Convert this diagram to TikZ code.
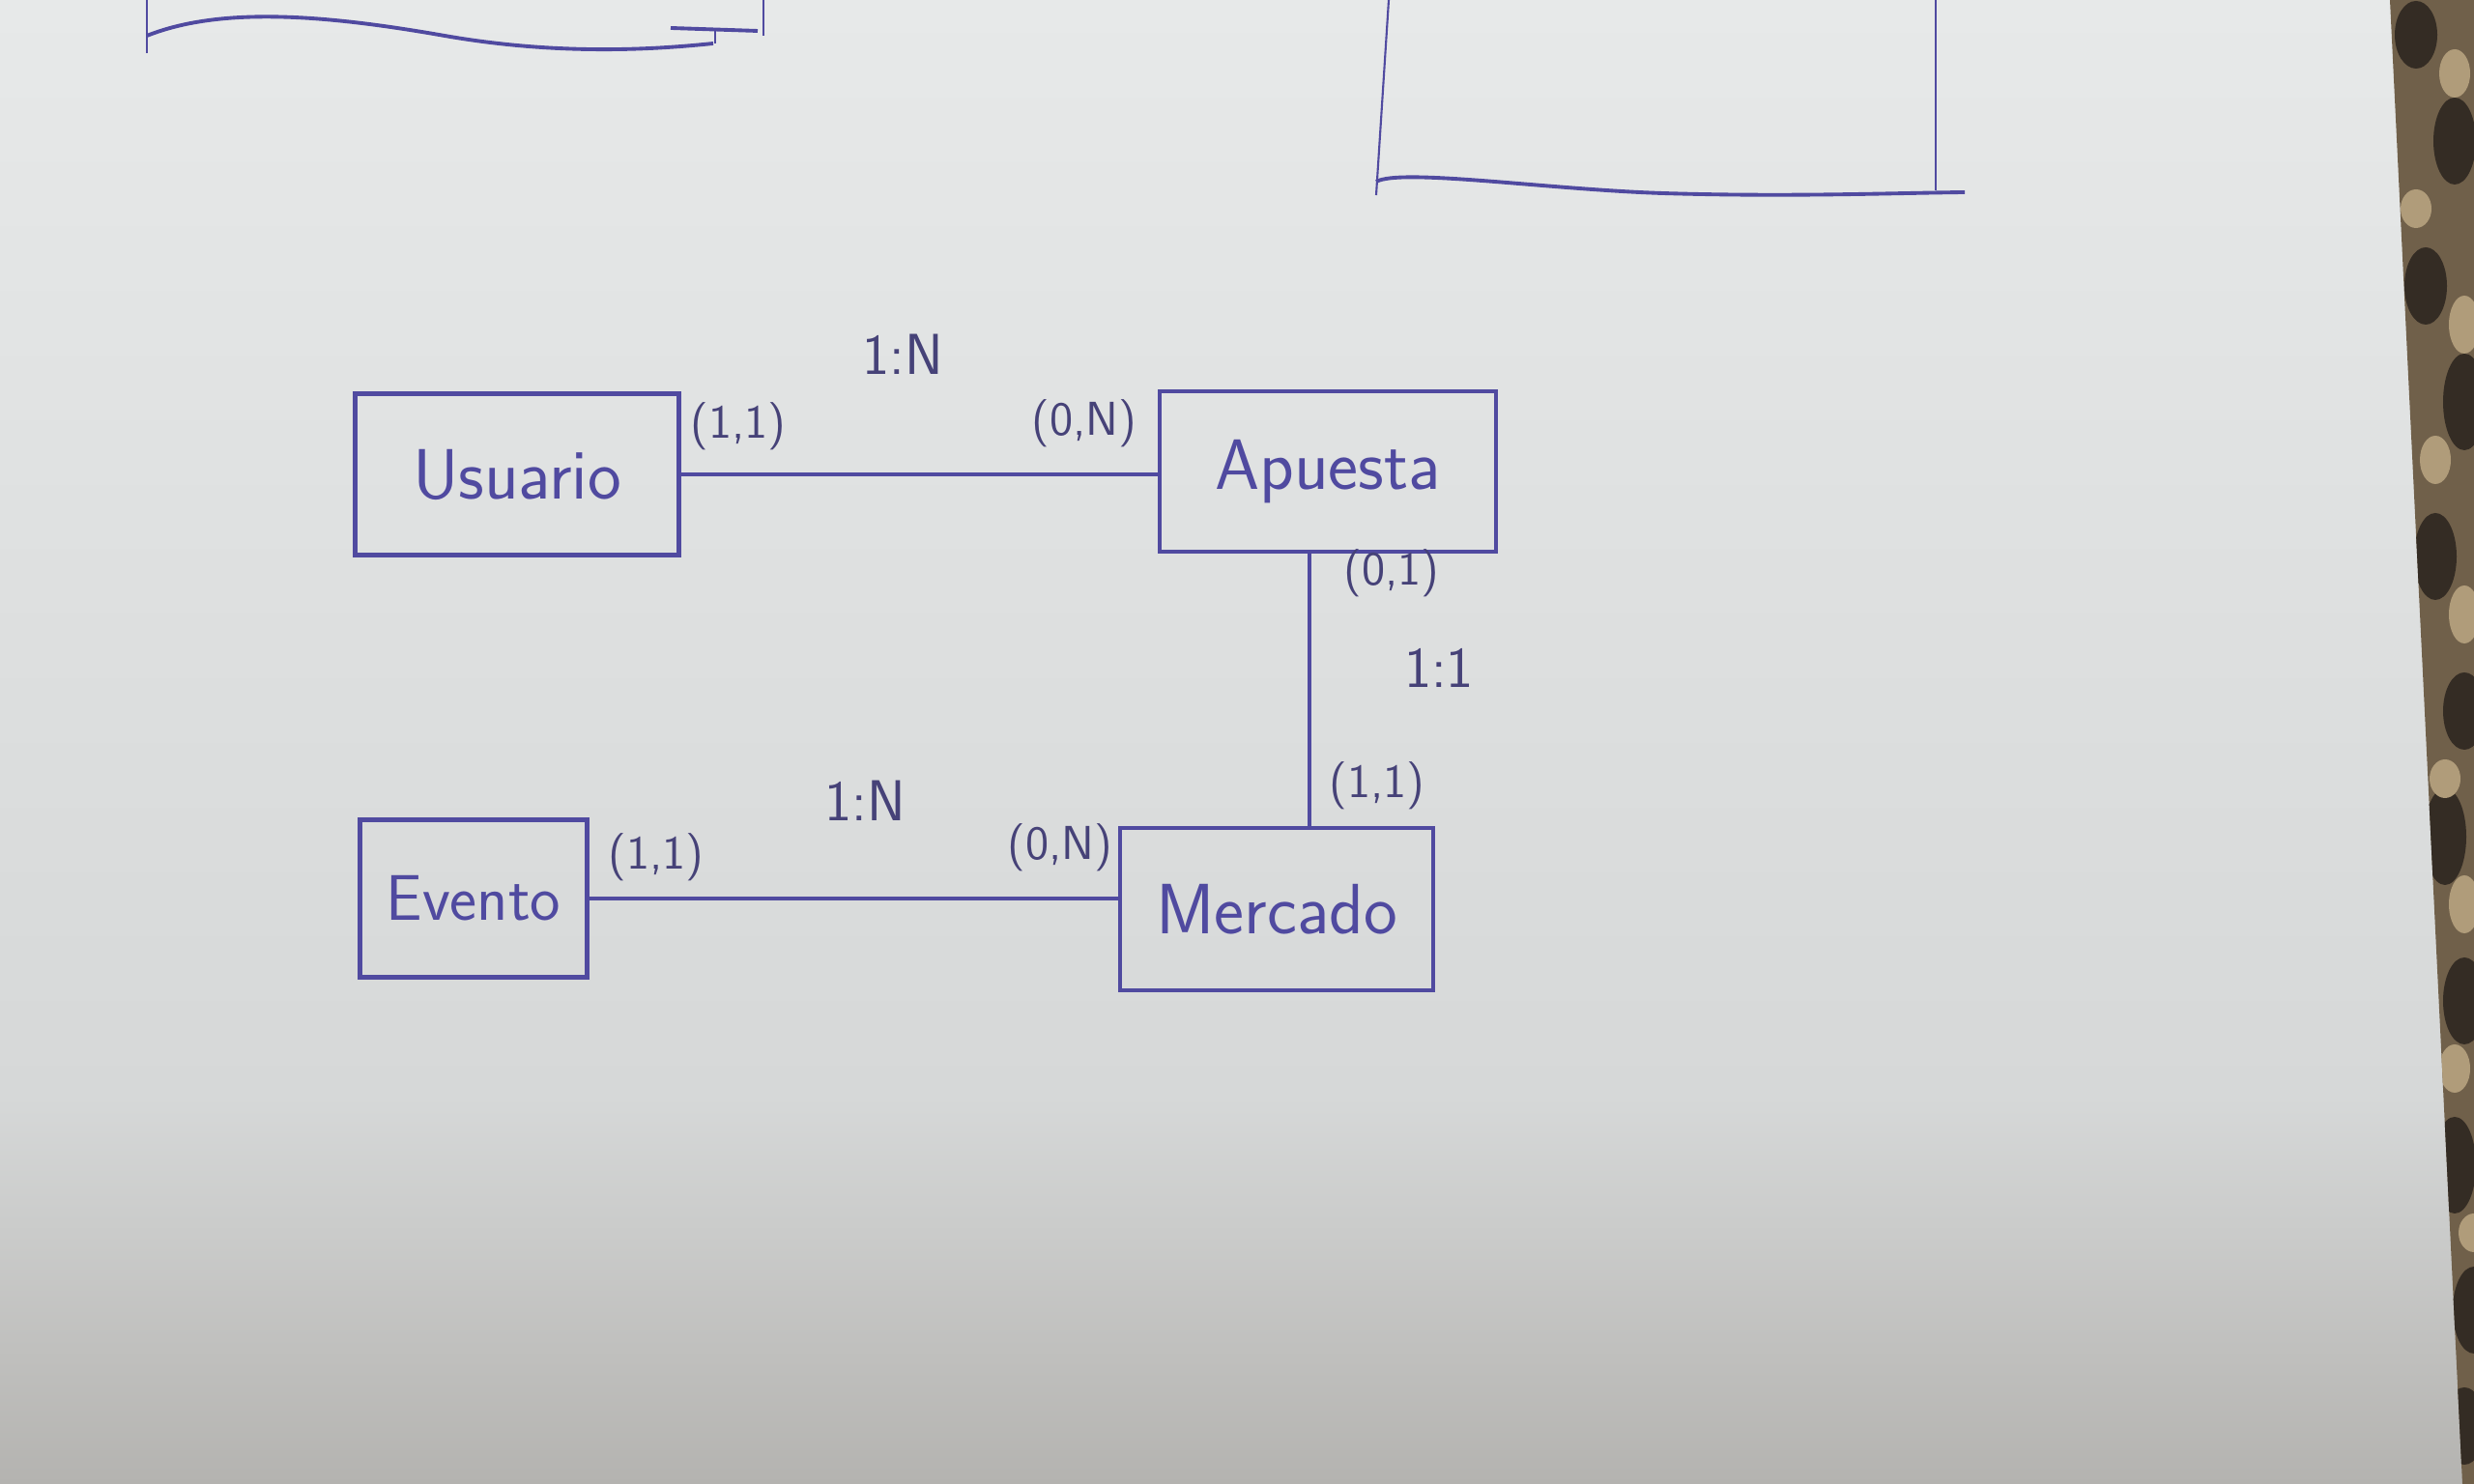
\documentclass[tikz,border=0pt]{standalone}
\definecolor{ink}{RGB}{80,74,160}
\definecolor{pencil}{RGB}{70,66,120}
\definecolor{paperhi}{RGB}{231,233,233}
\definecolor{paper}{RGB}{214,216,216}
\definecolor{paperlo}{RGB}{180,179,176}
\definecolor{granite}{RGB}{112,96,74}
\definecolor{granitedk}{RGB}{52,44,36}
\definecolor{granitelt}{RGB}{176,156,122}
\tikzset{
  entity/.style={draw=ink,line width=1.2pt,text=ink,font=\sffamily\fontsize{21}{25}\selectfont},
  link/.style={draw=ink,line width=1.2pt},
  cardlbl/.style={text=pencil,font=\sffamily\fontsize{14}{17}\selectfont},
  ratiolbl/.style={text=pencil,font=\sffamily\fontsize{17}{20}\selectfont}
}
\begin{document}
\begin{tikzpicture}
   \useasboundingbox (0,0) rectangle (25.6,15.36);
   \shade [top color=paperhi, bottom color=paper] (0,4) rectangle (25.6,15.36);
   \shade [top color=paper, bottom color=paperlo] (0,0) rectangle (25.6,4.01);
   \begin{scope}
     \clip (24.73,15.36) -- (25.48,0) -- (25.6,0) -- (25.6,15.36) -- cycle;
     \fill [granite] (24,0) rectangle (25.6,15.36);
     \foreach \x/\y/\r in {25.0/15.0/0.35,25.4/13.9/0.45,25.1/12.4/0.4,25.5/11.2/0.5,25.2/9.6/0.45,25.5/8.0/0.4,25.3/6.7/0.5,25.5/5.0/0.45,25.4/3.3/0.5,25.6/1.8/0.45,25.5/0.6/0.4}
       \fill [granitedk] (\x,\y) ellipse (0.22 and \r);
     \foreach \x/\y/\r in {25.4/14.6/0.25,25.0/13.2/0.2,25.5/12.0/0.3,25.2/10.6/0.25,25.5/9.0/0.3,25.3/7.3/0.2,25.5/6.0/0.3,25.4/4.3/0.25,25.6/2.6/0.2}
       \fill [granitelt] (\x,\y) ellipse (0.16 and \r);
   \end{scope}
   % sheets at the top
   \draw [ink,line width=0.6pt] (1.52,15.36) -- (1.52,14.81);
   \draw [ink,line width=0.6pt] (7.90,15.36) -- (7.90,14.99);
   \draw [ink,line width=1.1pt] (1.52,14.99) .. controls (2.3,15.3) and (3.4,15.2) .. (4.6,14.99) .. controls (5.8,14.78) and (6.8,14.85) .. (7.38,14.91);
   \draw [ink,line width=1.1pt] (6.94,15.07) -- (7.84,15.04);
   \draw [ink,line width=0.6pt] (7.40,15.06) -- (7.40,14.91);
   \draw [ink,line width=0.6pt] (14.37,15.36) -- (14.24,13.34);
   \draw [ink,line width=0.6pt] (20.03,15.36) -- (20.03,13.39);
   \draw [ink,line width=1.1pt] (14.24,13.48) .. controls (14.5,13.62) and (16,13.4) .. (17.2,13.36) .. controls (18.5,13.32) and (19.5,13.36) .. (20.33,13.37);
   % entidades
   \node [entity, minimum width=3.35cm, minimum height=1.67cm] (usuario) at (5.35,10.45) {Usuario};
   \node [entity, minimum width=3.48cm, minimum height=1.66cm] (apuesta) at (13.74,10.48) {Apuesta};
   \node [entity, minimum width=2.35cm, minimum height=1.63cm, font=\sffamily\fontsize{19}{23}\selectfont] (evento) at (4.90,6.06) {Evento};
   \node [entity, minimum width=3.24cm, minimum height=1.68cm] (mercado) at (13.21,5.95) {Mercado};
   \draw [link] (usuario.east) -- (usuario.east -| apuesta.west);
   \draw [link] ([xshift=-1.9mm]apuesta.south) -- ([xshift=-1.9mm]apuesta.south |- mercado.north);
   \draw [link] (evento.east) -- (evento.east -| mercado.west);
   \node [ratiolbl] (ua) at (9.34,11.69) {1:N};
   \node [cardlbl] (ua1) at (7.64,10.95) {(1,1)};
   \node [cardlbl] (ua2) at (11.22,10.98) {(0,N)};
   \node [cardlbl] (am1) at (14.40,9.43) {(0,1)};
   \node [ratiolbl] (am) at (14.89,8.45) {1:1};
   \node [cardlbl] (am2) at (14.25,7.23) {(1,1)};
   \node [ratiolbl] (em) at (8.95,7.07) {1:N};
   \node [cardlbl] (em1) at (6.79,6.49) {(1,1)};
   \node [cardlbl] (em2) at (10.97,6.59) {(0,N)};
\end{tikzpicture}
\end{document}
